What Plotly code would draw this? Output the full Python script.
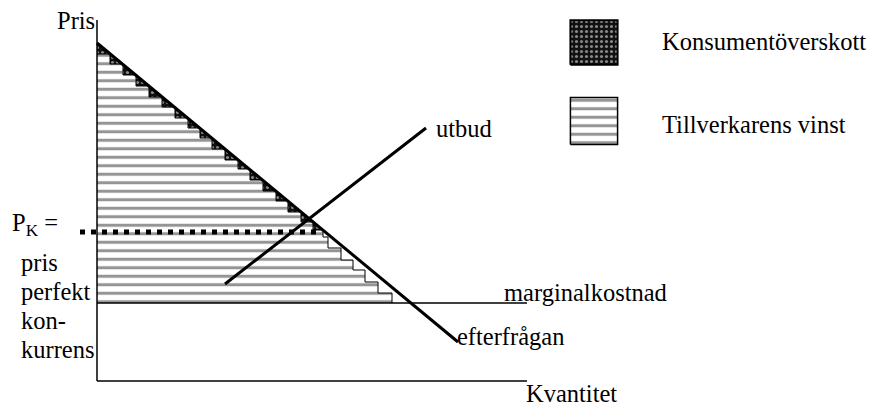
import plotly.graph_objects as go

# ---------------- data (units: quantity, price) ----------------
demand_q = [0.0, 36.1]
demand_p = [33.8, 3.9]

supply_q = [12.8, 32.9]
supply_p = [9.7, 25.3]

mc_q = [0.0, 43.0]
mc_p = [7.8, 7.8]

pk_q = [-1.7, 22.5]
pk_p = [14.9, 14.9]

axis_x_q = [0.0, 43.0]
axis_x_p = [0.0, 0.0]
axis_y_q = [0.0, 0.0]
axis_y_p = [0.0, 36.1]

# staircase: left edge of each step and its price level
step_q = [0.0, 1.3, 2.6, 3.9, 5.2, 6.5, 7.8, 9.1, 10.3, 11.5, 12.8, 14.1, 15.3,
          16.6, 17.9, 19.1, 20.4, 21.6, 22.6, 23.1, 24.4, 25.6, 26.8, 28.1]
step_p = [32.7, 31.7, 30.6, 29.5, 28.4, 27.4, 26.3, 25.3, 24.3, 23.2, 22.1, 21.2,
          20.1, 19.0, 18.0, 16.9, 15.9, 15.1, 14.4, 13.3, 12.1, 11.1, 9.9, 8.8]
step_end_q = 29.5
n_upper = 18  # steps whose corners touch the demand curve

labels = {
    "pris": "Pris",
    "qty": "Kvantitet",
    "cs": "Konsumentöverskott",
    "ps": "Tillverkarens vinst",
    "supply": "utbud",
    "mc": "marginalkostnad",
    "demand": "efterfrågan",
    "pk": "P<sub>K</sub> =",
    "pk_lines": ["pris", "perfekt", "kon-", "kurrens"],
}

# ---------------- build staircase geometry ----------------
stair_x, stair_y = [], []
edges = step_q + [step_end_q]
for i, p in enumerate(step_p):
    stair_x += [edges[i], edges[i + 1]]
    stair_y += [p, p]
stair_x.append(step_end_q)
stair_y.append(mc_p[0])

# producer area (wave pattern): y-axis, mc line, staircase
ps_x = [0.0] + stair_x + [0.0]
ps_y = [mc_p[0]] + stair_y + [mc_p[0]]

# consumer area (dark pattern): between demand and the upper staircase
cs_x = [0.0, edges[n_upper]]
cs_y = [demand_p[0], step_p[n_upper - 1]]
for i in range(n_upper - 1, -1, -1):
    cs_x += [edges[i + 1], edges[i]]
    cs_y += [step_p[i], step_p[i]]
cs_x.append(0.0)
cs_y.append(demand_p[0])

W, H = 875, 410
FONT = "Liberation Serif, Times New Roman, serif"
FS = 24.5

wave_pattern = dict(shape="-", size=8.5, solidity=0.36, fgcolor="#2b2b2b", bgcolor="white")
dark_pattern = dict(shape=".", size=5, solidity=0.3, fgcolor="white", bgcolor="#111111")

fig = go.Figure()

fig.add_trace(go.Scatter(x=ps_x, y=ps_y, mode="lines", fill="toself",
                         fillcolor="white", fillpattern=wave_pattern,
                         line=dict(width=0), hoverinfo="skip"))
fig.add_trace(go.Scatter(x=cs_x, y=cs_y, mode="lines", fill="toself",
                         fillcolor="#111111", fillpattern=dark_pattern,
                         line=dict(width=0), hoverinfo="skip"))
fig.add_trace(go.Scatter(x=stair_x, y=stair_y, mode="lines",
                         line=dict(color="black", width=1), hoverinfo="skip"))
fig.add_trace(go.Scatter(x=mc_q, y=mc_p, mode="lines",
                         line=dict(color="black", width=1.5), hoverinfo="skip"))
fig.add_trace(go.Scatter(x=axis_x_q, y=axis_x_p, mode="lines",
                         line=dict(color="black", width=1.5), hoverinfo="skip"))
fig.add_trace(go.Scatter(x=axis_y_q, y=axis_y_p, mode="lines",
                         line=dict(color="black", width=1.5), hoverinfo="skip"))
fig.add_trace(go.Scatter(x=demand_q, y=demand_p, mode="lines",
                         line=dict(color="black", width=3), hoverinfo="skip"))
fig.add_trace(go.Scatter(x=supply_q, y=supply_p, mode="lines",
                         line=dict(color="black", width=3), hoverinfo="skip"))
fig.add_trace(go.Scatter(x=pk_q, y=pk_p, mode="lines",
                         line=dict(color="black", width=5, dash="5px,6px"), hoverinfo="skip"))

# legend swatches on their own small axes
sq_x = [0, 1, 1, 0, 0]
sq_y = [0, 0, 1, 1, 0]
fig.add_trace(go.Scatter(x=sq_x, y=sq_y, xaxis="x2", yaxis="y2", mode="lines",
                         fill="toself", fillcolor="#111111", fillpattern=dark_pattern,
                         line=dict(color="black", width=2), hoverinfo="skip"))
fig.add_trace(go.Scatter(x=sq_x, y=sq_y, xaxis="x3", yaxis="y3", mode="lines",
                         fill="toself", fillcolor="white", fillpattern=wave_pattern,
                         line=dict(color="black", width=1.5), hoverinfo="skip"))


def px_x(v):
    return v / W


def px_y(v):
    return 1 - v / H


anns = []


def lab(text, x, y, xanchor="left"):
    anns.append(dict(text=text, x=px_x(x), y=px_y(y), xref="paper", yref="paper",
                     xanchor=xanchor, yanchor="middle", showarrow=False,
                     font=dict(family=FONT, size=FS, color="black")))


lab(labels["pris"], 97, 20, "right")
lab(labels["cs"], 660, 42)
lab(labels["ps"], 660, 124)
lab(labels["supply"], 434, 128)
lab(labels["mc"], 502, 292)
lab(labels["demand"], 455, 336)
lab(labels["qty"], 524, 393)
lab(labels["pk"], 10, 224)
for k, t in enumerate(labels["pk_lines"]):
    lab(t, 19, 262 + 29 * k)

hidden = dict(visible=False, fixedrange=True)
fig.update_layout(
    width=W, height=H,
    margin=dict(l=0, r=0, t=0, b=0),
    paper_bgcolor="white", plot_bgcolor="rgba(0,0,0,0)",
    showlegend=False,
    xaxis=dict(range=[-9.7, 77.8], domain=[0, 1], **hidden),
    yaxis=dict(range=[-2.9, 38.1], domain=[0, 1], **hidden),
    xaxis2=dict(range=[-0.03, 1.03], domain=[569 / W, 619 / W], anchor="y2", **hidden),
    yaxis2=dict(range=[-0.03, 1.03], domain=[px_y(66), px_y(19)], anchor="x2", **hidden),
    xaxis3=dict(range=[-0.03, 1.03], domain=[569 / W, 619 / W], anchor="y3", **hidden),
    yaxis3=dict(range=[-0.03, 1.03], domain=[px_y(146), px_y(96)], anchor="x3", **hidden),
    annotations=anns,
)

fig.write_html(
    "out.html",
    config={"displayModeBar": False, "staticPlot": True},
    post_script="document.body.style.margin='0px';document.body.style.overflow='hidden';",
)
